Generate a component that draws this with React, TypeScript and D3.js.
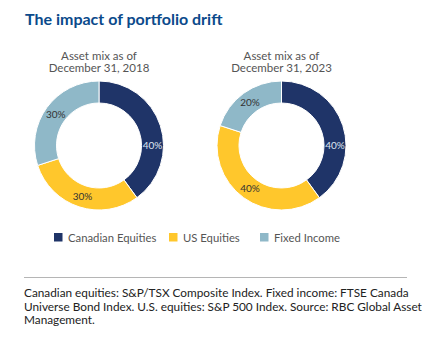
import React, { useEffect, useRef } from 'react';
import * as d3 from 'd3';

const categories = ['Canadian Equities', 'US Equities', 'Fixed Income'];
const colors = ['#1f3468', '#ffc72c', '#8fb8c8'];
const dates = ['December 31, 2018', 'December 31, 2023'];
const values2018 = [40, 30, 30];
const values2023 = [40, 40, 20];
const footnote = [
  'Canadian equities: S&P/TSX Composite Index. Fixed income: FTSE Canada',
  'Universe Bond Index. U.S. equities: S&P 500 Index. Source: RBC Global Asset',
  'Management.',
];

const W = 422;
const H = 351;
const FONT = 'Lato, "Open Sans", sans-serif';

export default function App() {
  const svgRef = useRef<SVGSVGElement>(null);

  useEffect(() => {
    if (!svgRef.current) return;
    const svg = d3.select(svgRef.current);
    svg.selectAll('*').remove();

    svg.append('text')
      .attr('x', 25)
      .attr('y', 25)
      .style('font-family', FONT)
      .style('font-size', '16px')
      .style('font-weight', 'bold')
      .style('fill', '#0b4a8b')
      .text('The impact of portfolio drift');

    const outer = 64.5;
    const inner = 42.5;
    const pie = d3.pie<number>().value(d => d).sort(null);
    const arc = d3.arc<d3.PieArcDatum<number>>().innerRadius(inner).outerRadius(outer);
    const labelR = (inner + outer) / 2;

    const charts = [
      { cx: 99, values: values2018, date: dates[0] },
      { cx: 281.5, values: values2023, date: dates[1] },
    ];
    const cy = 145.5;

    charts.forEach(c => {
      const title = svg.append('text')
        .attr('text-anchor', 'middle')
        .style('font-family', FONT)
        .style('font-size', '11.5px')
        .style('fill', '#555');
      title.append('tspan').attr('x', c.cx).attr('y', 60).text('Asset mix as of');
      title.append('tspan').attr('x', c.cx).attr('y', 72).text(c.date);

      const g = svg.append('g').attr('transform', `translate(${c.cx},${cy})`);
      const arcs = pie(c.values);
      g.selectAll('path')
        .data(arcs)
        .enter().append('path')
        .attr('d', arc)
        .attr('fill', (d, i) => colors[i])
        .attr('stroke', '#fff')
        .attr('stroke-width', 1);

      g.selectAll('text')
        .data(arcs)
        .enter().append('text')
        .attr('text-anchor', 'middle')
        .attr('dy', '0.35em')
        .attr('transform', (d, i) => {
          const a = i === 0 ? Math.PI / 2 : (d.startAngle + d.endAngle) / 2;
          return `translate(${labelR * Math.sin(a)},${-labelR * Math.cos(a)})`;
        })
        .style('font-family', FONT)
        .style('font-size', '10px')
        .style('fill', (d, i) => (i === 0 ? '#dfe6f0' : '#333'))
        .text(d => `${d.data}%`);
    });

    // legend
    const legendX = [54, 169, 260];
    categories.forEach((name, i) => {
      svg.append('rect')
        .attr('x', legendX[i])
        .attr('y', 233)
        .attr('width', 8.5)
        .attr('height', 8.5)
        .attr('fill', colors[i]);
      svg.append('text')
        .attr('x', legendX[i] + 14)
        .attr('y', 241.5)
        .style('font-family', FONT)
        .style('font-size', '11.3px')
        .style('fill', '#555')
        .text(name);
    });

    svg.append('line')
      .attr('x1', 24)
      .attr('x2', 407)
      .attr('y1', 277.5)
      .attr('y2', 277.5)
      .attr('stroke', '#b5b5b5')
      .attr('stroke-width', 1);

    footnote.forEach((line, i) => {
      svg.append('text')
        .attr('x', 24)
        .attr('y', 297 + i * 13.5)
        .style('font-family', FONT)
        .style('font-size', '11.8px')
        .style('fill', '#222')
        .text(line);
    });
  }, []);

  return (
    <svg
      ref={svgRef}
      width={W}
      height={H}
      viewBox={`0 0 ${W} ${H}`}
      style={{ position: 'absolute', left: 0, top: 0, background: '#fff' }}
    />
  );
}
